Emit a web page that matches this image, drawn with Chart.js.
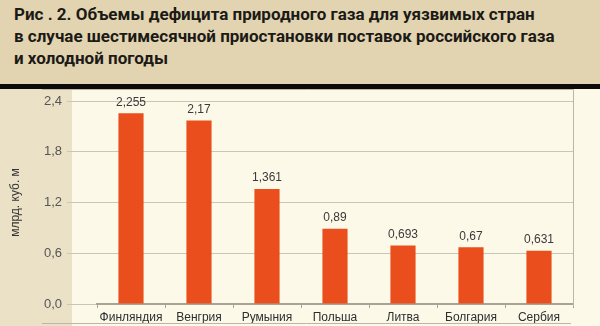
<!DOCTYPE html>
<html>
<head>
<meta charset="utf-8">
<script src="https://cdn.jsdelivr.net/npm/chart.js@4.4.1/dist/chart.umd.min.js"></script>
<style>
  html, body { margin: 0; padding: 0; }
  body { width: 600px; height: 326px; overflow: hidden; position: relative; background: #fdf9e9; }
  #title {
    position: absolute; left: 0; top: 0; width: 600px; height: 84px;
    background: #e2d4b0; box-sizing: border-box; padding: 3px 0 0 14px;
    font: bold 17px Roboto, sans-serif; line-height: 22px; color: #1c1a16;
  }
  #band { position: absolute; left: 0; top: 84px; width: 600px; height: 5px; background: #0c0b09; }
  #wrap {
    position: absolute; left: 0; top: 88px; width: 600px; height: 238px;
    background: linear-gradient(to right, #ebe1c6 72px, #fdf9e9 72px);
  }
</style>
</head>
<body>
<div id="title">Рис . 2. Объемы дефицита природного газа для уязвимых стран<br>в случае шестимесячной приостановки поставок российского газа<br>и холодной погоды</div>
<div id="wrap"><canvas id="chart" width="600" height="238"></canvas></div>
<div id="band"></div>
<script>
const countries = ['Финляндия', 'Венгрия', 'Румыния', 'Польша', 'Литва', 'Болгария', 'Сербия'];
const deficit = [2.255, 2.17, 1.361, 0.89, 0.693, 0.67, 0.631];
const yMin = 0;
const yMax = 2.4;
const yStep = 0.6;
const yTitle = 'млрд. куб. м';

const fmt = (v) => String(v).replace('.', ',');

// подписи значений над столбцами
const valueLabels = {
  id: 'valueLabels',
  afterDatasetsDraw(chart) {
    const { ctx } = chart;
    const meta = chart.getDatasetMeta(0);
    ctx.save();
    ctx.font = '12px "Liberation Sans", Arial, sans-serif';
    ctx.fillStyle = '#3a3a3a';
    ctx.textAlign = 'center';
    ctx.textBaseline = 'bottom';
    meta.data.forEach((bar, i) => {
      ctx.fillText(fmt(deficit[i]), bar.x, bar.y - 5);
    });
    ctx.restore();
  },
};

// рамка области диаграммы
const frame = {
  id: 'frame',
  afterDraw(chart) {
    const { ctx, chartArea: { right, bottom } } = chart;
    ctx.save();
    ctx.strokeStyle = '#bdb6a6';
    ctx.lineWidth = 1;
    ctx.beginPath();
    ctx.moveTo(42, 1.5);
    ctx.lineTo(right + 0.5, 1.5);
    ctx.lineTo(right + 0.5, bottom + 2);
    ctx.moveTo(42, 235.5);
    ctx.lineTo(right - 2, 235.5);
    ctx.stroke();
    ctx.restore();
  },
};

new Chart(document.getElementById('chart'), {
  type: 'bar',
  plugins: [valueLabels, frame],
  data: {
    labels: countries,
    datasets: [{
      data: deficit,
      backgroundColor: '#e94e1c',
      barPercentage: 0.37,
      categoryPercentage: 1,
    }],
  },
  options: {
    responsive: false,
    animation: false,
    devicePixelRatio: 1,
    layout: { padding: { top: 13, right: 27, bottom: 0, left: 0 } },
    plugins: {
      legend: { display: false },
      tooltip: { enabled: false },
    },
    scales: {
      x: {
        grid: { drawOnChartArea: false, tickLength: 4, color: '#a8a297', offset: true },
        border: { color: '#a8a297', width: 2 },
        ticks: {
          color: '#2e2e2e',
          padding: 2,
          maxRotation: 0,
          minRotation: 0,
          autoSkip: false,
          font: { family: '"Liberation Sans", Arial, sans-serif', size: 12 },
        },
        afterFit: (scale) => { scale.height = 22; },
      },
      y: {
        min: yMin,
        max: yMax,
        grid: { color: '#cbc5b8', tickLength: 30 },
        border: { display: false },
        ticks: {
          stepSize: yStep,
          color: '#555',
          padding: 5,
          font: { family: '"Liberation Sans", Arial, sans-serif', size: 13 },
          callback: (v) => v.toFixed(1).replace('.', ','),
        },
        title: {
          display: true,
          text: yTitle,
          color: '#333',
          padding: { top: 8, bottom: 0 },
          font: { family: '"Liberation Sans", Arial, sans-serif', size: 12 },
        },
        afterFit: (scale) => { scale.width = 97; },
      },
    },
  },
});
</script>
</body>
</html>
